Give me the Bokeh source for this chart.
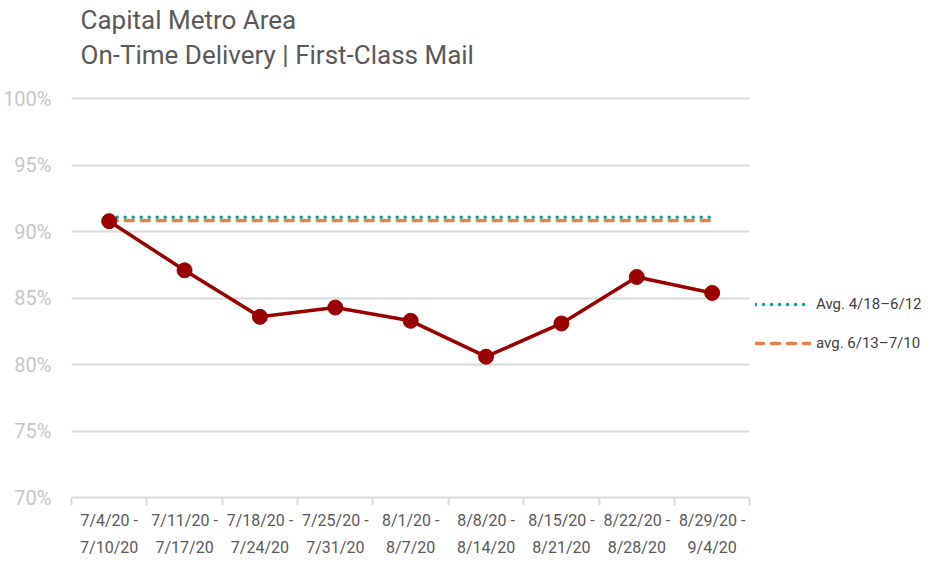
from bokeh.plotting import figure
from bokeh.models import (Range1d, FixedTicker, Legend, LegendItem, Label,
                          PrintfTickFormatter)
from bokeh.embed import file_html
from bokeh.resources import INLINE

weeks = ["7/4/20 -\n7/10/20", "7/11/20 -\n7/17/20", "7/18/20 -\n7/24/20",
         "7/25/20 -\n7/31/20", "8/1/20 -\n8/7/20", "8/8/20 -\n8/14/20",
         "8/15/20 -\n8/21/20", "8/22/20 -\n8/28/20", "8/29/20 -\n9/4/20"]
on_time = [90.8, 87.1, 83.6, 84.3, 83.3, 80.6, 83.1, 86.6, 85.4]
avg_apr_jun = 91.1
avg_jun_jul = 90.85
y_ticks = [70, 75, 80, 85, 90, 95, 100]
title_lines = ["Capital Metro Area", "On-Time Delivery | First-Class Mail"]
legend_labels = ["Avg. 4/18\u20136/12", "avg. 6/13\u20137/10"]

n = len(weeks)
xs = [i + 0.5 for i in range(n)]

FONT = "Roboto"

# The frame extends right (legend area) and up (title area); the grid and the
# x axis are bounded to the chart area itself.
p = figure(width=931, height=560, output_backend="svg", toolbar_location=None,
           x_range=Range1d(0, 11.41), y_range=Range1d(70, 106.81),
           min_border_left=66, min_border_right=0, min_border_bottom=60,
           min_border_top=8)
p.outline_line_color = None
p.background_fill_color = "white"
p.border_fill_color = "white"

# grid
p.xgrid.grid_line_color = None
p.ygrid.grid_line_color = "#d9d9d9"
p.ygrid.grid_line_width = 2
p.ygrid.ticker = FixedTicker(ticks=y_ticks)
if "cross_bounds" in p.ygrid[0].properties():
    p.ygrid.cross_bounds = (0, n)
else:
    p.ygrid.grid_line_color = None
    p.segment(x0=[0] * len(y_ticks), x1=[n] * len(y_ticks), y0=y_ticks, y1=y_ticks,
              line_color="#d9d9d9", line_width=2, level="underlay")

# y axis
p.yaxis.ticker = FixedTicker(ticks=y_ticks)
p.yaxis.formatter = PrintfTickFormatter(format="%d%%")
p.yaxis.axis_line_color = None
p.yaxis.major_tick_line_color = None
p.yaxis.minor_tick_line_color = None
p.yaxis.major_label_standoff = 14
p.yaxis.major_label_text_font = FONT
p.yaxis.major_label_text_font_size = "20px"
p.yaxis.major_label_text_color = "#c6c6c6"
p.yaxis.major_label_text_font_style = "normal"

# x axis
p.xaxis.bounds = (0, n)
p.xaxis.ticker = FixedTicker(ticks=xs, minor_ticks=list(range(n + 1)))
p.xaxis.major_label_overrides = {x: w for x, w in zip(xs, weeks)}
p.xaxis.axis_line_color = "#d9d9d9"
p.xaxis.axis_line_width = 2
p.xaxis.major_tick_line_color = None
p.xaxis.major_tick_out = 8
p.xaxis.major_tick_in = 0
p.xaxis.minor_tick_line_color = "#d9d9d9"
p.xaxis.minor_tick_line_width = 2
p.xaxis.minor_tick_out = 8
p.xaxis.minor_tick_in = 0
p.xaxis.major_label_standoff = 5
p.xaxis.major_label_text_font = FONT
p.xaxis.major_label_text_font_size = "16px"
p.xaxis.major_label_text_color = "#595959"
p.xaxis.major_label_text_line_height = 1.45

# average lines
r_avg1 = p.line([xs[0], xs[-1]], [avg_apr_jun, avg_apr_jun], line_color="#00a19a",
                line_width=3.5, line_dash="0 8", line_cap="round")
r_avg2 = p.line([xs[0], xs[-1]], [avg_jun_jul, avg_jun_jul], line_color="#e2844a",
                line_width=3.5, line_dash="8 8", line_cap="round")

# data line
p.line(xs, on_time, line_color="#990000", line_width=3.5)
p.scatter(xs, on_time, size=15, fill_color="#990000", line_color="#990000")

# titles
for txt, yy in zip(title_lines, [105.98, 103.29]):
    p.add_layout(Label(x=0.12, y=yy, text=txt, text_font=FONT,
                       text_font_size="26px", text_color="#595959",
                       text_baseline="middle", text_align="left"))

legend = Legend(items=[LegendItem(label=legend_labels[0], renderers=[r_avg1]),
                       LegendItem(label=legend_labels[1], renderers=[r_avg2])],
                location=(684, 144), orientation="vertical",
                border_line_color=None, background_fill_alpha=0,
                padding=0, margin=0, spacing=19, glyph_width=56, glyph_height=20,
                label_standoff=5, label_text_font=FONT, label_text_font_size="15px",
                label_text_color="#404040", label_height=20)
p.add_layout(legend, "center")

open("out.html", "w").write(file_html(p, INLINE))
